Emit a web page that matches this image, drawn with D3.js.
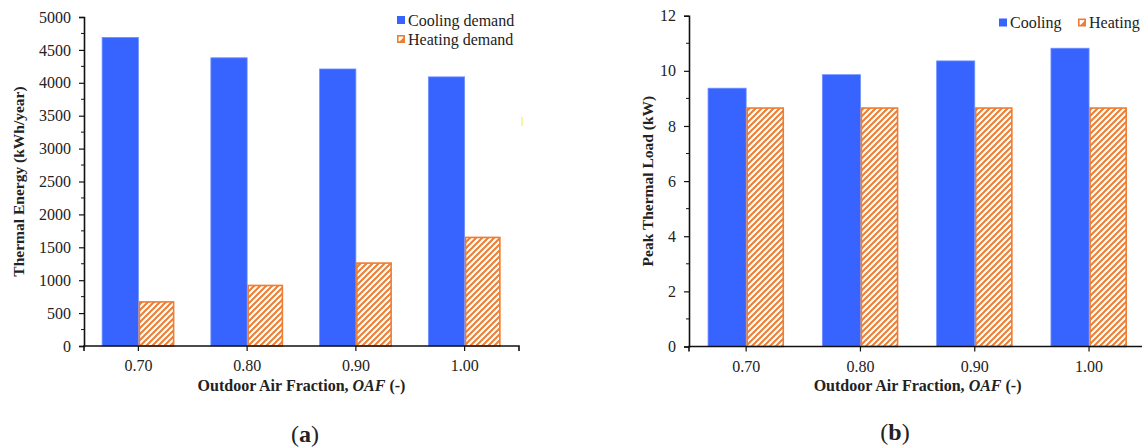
<!DOCTYPE html>
<html><head><meta charset="utf-8">
<script src="https://cdn.jsdelivr.net/npm/d3@7"></script>
<style>
html,body{margin:0;padding:0;background:#fff;}
svg text{font-family:"Liberation Serif","Times New Roman",serif;fill:#222;}
</style></head>
<body>
<svg id="c" width="1142" height="448"></svg>
<script>
// ---- data ----
const categories = ["0.70", "0.80", "0.90", "1.00"];
const energyCooling = [4690, 4380, 4210, 4090];
const energyHeating = [670, 920, 1260, 1650];
const peakCooling = [9.37, 9.86, 10.36, 10.82];
const peakHeating = [8.65, 8.65, 8.65, 8.65];
const energyTicks = [0, 500, 1000, 1500, 2000, 2500, 3000, 3500, 4000, 4500, 5000];
const peakTicks = [0, 2, 4, 6, 8, 10, 12];
const legendA = ["Cooling demand", "Heating demand"];
const legendB = ["Cooling", "Heating"];

const BLUE = "#3763FF", ORANGE = "#ED7D31";
const svg = d3.select("#c");

const defs = svg.append("defs");
const pat = defs.append("pattern").attr("id", "hatch")
  .attr("patternUnits", "userSpaceOnUse").attr("width", 6).attr("height", 6);
pat.append("rect").attr("width", 6).attr("height", 6).attr("fill", "#fff");
pat.append("path").attr("d", "M-1,1 l2,-2 M0,6 l6,-6 M5,7 l2,-2")
  .attr("stroke", ORANGE).attr("stroke-width", 2);

function panel(o) {
  const g = svg.append("g");
  const x0 = d3.scaleBand().domain(categories).range([o.left, o.right]).padding(0);
  const x1 = d3.scaleBand().domain(["c", "h"]).range([0, x0.bandwidth()])
    .paddingInner(0).paddingOuter(0.5);
  const y = d3.scaleLinear().domain([0, o.max]).range([o.bottom, o.top]);

  // bars
  categories.forEach((c, i) => {
    g.append("rect").attr("x", x0(c) + x1("c")).attr("width", x1.bandwidth())
      .attr("y", y(o.cool[i])).attr("height", y(0) - y(o.cool[i]))
      .attr("fill", BLUE).attr("stroke", "#6f8fff").attr("stroke-width", 0.8);
    g.append("rect").attr("x", x0(c) + x1("h") + 1).attr("width", x1.bandwidth() - 2)
      .attr("y", y(o.heat[i])).attr("height", y(0) - y(o.heat[i]))
      .attr("fill", "url(#hatch)").attr("stroke", ORANGE).attr("stroke-width", 1.6);
  });

  // y axis
  const yAxis = d3.axisLeft(y).tickValues(o.ticks).tickSize(5).tickPadding(8)
    .tickFormat(d => d);
  const ya = g.append("g").attr("transform", `translate(${o.left},0)`).call(yAxis);
  ya.select(".domain").attr("stroke", "#111").attr("stroke-width", 1.6);
  ya.selectAll(".tick line").attr("stroke", "#111").attr("stroke-width", 1.2);
  ya.selectAll("text").style("font-size", "16px").attr("fill", "#222")
    .style("font-family", '"Liberation Serif",serif');
  // minor ticks
  const minor = d3.range(0, o.max, o.minor).filter(v => !o.ticks.includes(v));
  g.selectAll(null).data(minor).join("line")
    .attr("x1", o.left - 3).attr("x2", o.left).attr("y1", d => y(d)).attr("y2", d => y(d))
    .attr("stroke", "#111").attr("stroke-width", 1);

  // x axis
  const xAxis = d3.axisBottom(x0).tickSize(5).tickPadding(9);
  const xa = g.append("g").attr("transform", `translate(0,${o.bottom})`).call(xAxis);
  xa.select(".domain").attr("stroke", "#111").attr("stroke-width", 1.6)
    .attr("d", `M${o.left},5V0H${o.right}V5`);
  xa.selectAll(".tick line").attr("stroke", "#111").attr("stroke-width", 1.2);
  xa.selectAll("text").style("font-size", "16px").attr("fill", "#222")
    .style("font-family", '"Liberation Serif",serif');

  // y title
  g.append("text").attr("transform", `translate(${o.ytx},${(o.top + o.bottom) / 2}) rotate(-90)`)
    .attr("text-anchor", "middle").attr("dominant-baseline", "central")
    .style("font-size", "15.5px").style("font-weight", "bold").text(o.ytitle);

  // x title
  const xt = g.append("text").attr("x", (o.left + o.right) / 2 + o.xtdx).attr("y", 391)
    .attr("text-anchor", "middle").style("font-size", "16px").style("font-weight", "bold");
  xt.append("tspan").text("Outdoor Air Fraction, ");
  xt.append("tspan").style("font-style", "italic").text("OAF");
  xt.append("tspan").text(" (-)");

  // panel label
  const pl = g.append("text").attr("x", o.plx).attr("y", o.ply).attr("text-anchor", "middle")
    .style("font-size", "24px");
  pl.append("tspan").text("(");
  pl.append("tspan").style("font-weight", "bold").text(o.plabel);
  pl.append("tspan").text(")");

  // legend
  o.legend.forEach((l, i) => {
    const lx = o.legPos[i][0], ly = o.legPos[i][1];
    if (i === 0) {
      g.append("rect").attr("x", lx).attr("y", ly - 4).attr("width", 8).attr("height", 8)
        .attr("fill", BLUE);
    } else {
      g.append("rect").attr("x", lx + 0.8).attr("y", ly - 3.2).attr("width", 6.4).attr("height", 6.4)
        .attr("fill", "#fff").attr("stroke", ORANGE).attr("stroke-width", 1.6);
      g.append("path").attr("d", `M${lx + 1.5},${ly + 3.5}L${lx + 7},${ly - 2}L${lx + 7},${ly + 3.5}Z`)
        .attr("fill", ORANGE);
    }
    g.append("text").attr("x", lx + 11).attr("y", ly).attr("dominant-baseline", "central")
      .style("font-size", "16px").text(l);
  });
}

panel({left: 84, right: 519, top: 17, bottom: 346, max: 5000, ticks: energyTicks, minor: 250,
  cool: energyCooling, heat: energyHeating, ytitle: "Thermal Energy (kWh/year)", ytx: 18,
  xtdx: 0, plx: 305, ply: 442, plabel: "a", legend: legendA, legPos: [[397, 20], [397, 39]]});

panel({left: 689, right: 1146.2, top: 15.7, bottom: 346.5, max: 12, ticks: peakTicks, minor: 1,
  cool: peakCooling, heat: peakHeating, ytitle: "Peak Thermal Load (kW)", ytx: 647,
  xtdx: 0, plx: 895, ply: 440, plabel: "b", legend: legendB, legPos: [[999, 22.5], [1078, 22.5]]});

// small yellow mark present in the original figure
svg.append("line").attr("x1", 522).attr("x2", 522).attr("y1", 117).attr("y2", 126)
  .attr("stroke", "#f4f06a").attr("stroke-width", 1.2);
</script>
</body></html>
